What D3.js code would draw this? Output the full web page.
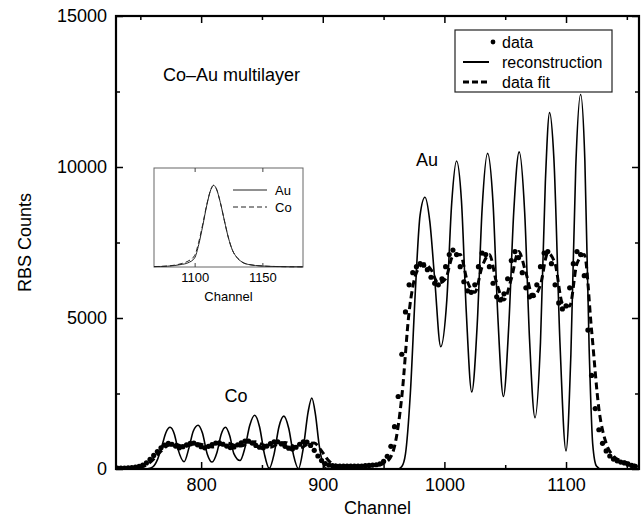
<!DOCTYPE html>
<html><head><meta charset="utf-8">
<script src="https://cdn.jsdelivr.net/npm/d3@7"></script>
<style>
body{margin:0;background:#fff}
svg{display:block}
text{font-family:"Liberation Sans",Arial,Helvetica,sans-serif;fill:#000}
</style>
</head><body>
<svg id="c" width="644" height="520"></svg>
<script>
// ---------- data ----------
const xTicks = [800, 900, 1000, 1100];
const xMinorTicks = [750, 850, 950, 1050, 1150];
const yTicks = [0, 5000, 10000, 15000];
const yMinorTicks = [2500, 7500, 12500];

// measured RBS spectrum (every 3rd channel, 731..1160)
const dataChannels = d3.range(731, 1161, 3);
const dataCounts = [
  30,30,30,35,45,60,90,130,200,320,450,580,700,790,850,820,760,700,
  740,800,850,860,800,740,700,750,810,860,870,820,760,710,730,800,870,920,
  920,860,780,720,700,760,840,900,900,830,750,690,660,720,820,900,890,780,
  620,430,280,180,130,110,100,100,100,100,100,100,100,100,110,120,130,140,
  170,250,420,750,1400,2400,3800,5200,6100,6500,6700,6800,6750,6600,6350,6150,
  6100,6300,6700,7100,7250,7100,6700,6200,5900,5850,6100,6700,7150,7100,6700,6150,
  5700,5600,5800,6300,6900,7200,7000,6500,6000,5700,5750,6100,6700,7150,7200,6800,
  6100,5500,5300,5400,6000,6800,7200,7100,6400,4600,3100,2000,1300,850,600,430,
  330,270,230,200,160,120,90
];

// data fit (every 6th channel, 731..1157)
const fitChannels = d3.range(731, 1158, 6);
const fitCounts = [
  20,25,35,60,130,330,590,780,820,740,790,840,790,730,800,860,790,760,
  860,900,800,720,830,880,770,690,810,860,600,270,120,90,90,90,95,110,
  140,250,750,2400,5200,6500,6800,6600,6150,6300,7050,7100,6200,5850,6700,7100,
  6150,5600,6300,7200,6500,5700,6100,7150,6800,5500,5400,6800,7100,4600,2000,850,
  430,270,200,120
];

// reconstruction
const reconChannels = [730,750,756,760,764,768,771,774.5,778,781,786,790,793.5,797.5,801,805,809,813,816.5,820,823.5,827,832,836,840,844,848,852,856,860,864,868,872,876,880,884,888,891,894,897,900,903,907,962,965,968,972,976,980,984,988,992,997,1002,1006,1010,1014,1018,1022.5,1027,1031,1035.5,1040,1044,1048.5,1053,1057,1061.5,1066,1070,1074.5,1079,1083,1086.5,1090,1095,1100,1104,1108,1112,1115.5,1119,1122,1125,1129,1160];
const reconCounts = [0,0,10,60,300,800,1200,1380,1150,650,240,700,1250,1450,1200,500,230,550,1150,1380,1100,500,280,700,1450,1780,1400,500,20,500,1400,1750,1350,450,10,700,1900,2350,1800,800,200,20,0,0,80,500,2500,5800,8400,9000,8200,6300,4050,5600,8800,10200,8900,5200,2550,4800,8600,10450,8800,5000,2400,4800,8500,10500,8500,4300,1700,4200,9500,11800,10300,4200,600,3800,10000,12400,10200,4000,800,100,0,0];

// inset: depth-resolution functions
const insetChannels = [1070,1080,1090,1095,1100,1103,1106,1109,1112,1114,1116,1119,1122,1125,1128,1131,1135,1140,1150,1160,1170,1180];
const insetAu = [0.005,0.01,0.03,0.05,0.11,0.27,0.5,0.75,0.94,0.99,0.95,0.78,0.56,0.35,0.2,0.12,0.06,0.03,0.012,0.006,0.003,0.002];
const insetCo = [0.005,0.012,0.04,0.07,0.14,0.3,0.52,0.76,0.94,0.99,0.95,0.78,0.56,0.35,0.2,0.12,0.06,0.03,0.012,0.006,0.003,0.002];
const insetXTicks = [1100, 1150];

const legendItems = ["data", "reconstruction", "data fit"];
const insetLegend = ["Au", "Co"];

// ---------- drawing ----------
const svg = d3.select("#c");
const L = 116, R = 639, T = 16, B = 469;
const x = d3.scaleLinear().domain([730, 1160]).range([L, R]);
const y = d3.scaleLinear().domain([0, 15000]).range([B, T]);

svg.append("clipPath").attr("id", "pc").append("rect")
  .attr("x", L).attr("y", T).attr("width", R - L).attr("height", B - T);

const plot = svg.append("g").attr("clip-path", "url(#pc)");

const line = d3.line().x(d => x(d[0])).y(d => y(d[1])).curve(d3.curveMonotoneX);

// data fit dashed
plot.append("path").datum(fitChannels.map((c, i) => [c, fitCounts[i]]))
  .attr("d", line).attr("fill", "none").attr("stroke", "#000")
  .attr("stroke-width", 3).attr("stroke-dasharray", "7,4");

// data dots
plot.append("g").selectAll("circle").data(dataChannels).join("circle")
  .attr("cx", d => x(d)).attr("cy", (d, i) => y(dataCounts[i])).attr("r", 2.6).attr("fill", "#000");

// reconstruction
plot.append("path").datum(reconChannels.map((c, i) => [c, reconCounts[i]]))
  .attr("d", line).attr("fill", "none").attr("stroke", "#000").attr("stroke-width", 1.6);

// axes
function axisG(axis, tx, ty) {
  const g = svg.append("g").attr("transform", `translate(${tx},${ty})`).call(axis);
  g.select(".domain").remove();
  g.selectAll(".tick line").attr("stroke", "#000").attr("stroke-width", 1.5);
  g.selectAll("text").attr("font-size", 18).attr("font-family", "'Liberation Sans',Arial,sans-serif").attr("fill", "#000");
  return g;
}
axisG(d3.axisBottom(x).tickValues(xTicks).tickSize(-7).tickPadding(9).tickFormat(d3.format("d")), 0, B);
axisG(d3.axisBottom(x).tickValues(xMinorTicks).tickSize(-4).tickFormat(""), 0, B);
axisG(d3.axisTop(x).tickValues(xTicks).tickSize(-7).tickFormat(""), 0, T);
axisG(d3.axisTop(x).tickValues(xMinorTicks).tickSize(-4).tickFormat(""), 0, T);
axisG(d3.axisLeft(y).tickValues(yTicks).tickSize(-7).tickPadding(9).tickFormat(d3.format("d")), L, 0);
axisG(d3.axisLeft(y).tickValues(yMinorTicks).tickSize(-4).tickFormat(""), L, 0);
axisG(d3.axisRight(y).tickValues(yTicks).tickSize(-7).tickFormat(""), R, 0);
axisG(d3.axisRight(y).tickValues(yMinorTicks).tickSize(-4).tickFormat(""), R, 0);

svg.append("rect").attr("x", L).attr("y", T).attr("width", R - L).attr("height", B - T)
  .attr("fill", "none").attr("stroke", "#000").attr("stroke-width", 2.2);

// axis titles
svg.append("text").attr("x", (L + R) / 2).attr("y", 514).attr("text-anchor", "middle")
  .attr("font-size", 18).text("Channel");
svg.append("text").attr("transform", `translate(31,${(T + B) / 2}) rotate(-90)`)
  .attr("text-anchor", "middle").attr("font-size", 18).text("RBS Counts");

// annotations
svg.append("text").attr("x", 163).attr("y", 81).attr("font-size", 18).text("Co\u2013Au multilayer");
svg.append("text").attr("x", 427).attr("y", 166).attr("text-anchor", "middle").attr("font-size", 18).text("Au");
svg.append("text").attr("x", 236).attr("y", 402).attr("text-anchor", "middle").attr("font-size", 18).text("Co");

// legend
const lg = svg.append("g");
lg.append("rect").attr("x", 455).attr("y", 30).attr("width", 157).attr("height", 62)
  .attr("fill", "#fff").attr("stroke", "#222").attr("stroke-width", 1.2);
const ly = [42, 62, 82];
legendItems.forEach((t, i) => {
  lg.append("text").attr("x", 502).attr("y", ly[i] + 6).attr("font-size", 16).text(t);
});
lg.append("circle").attr("cx", 493).attr("cy", ly[0]).attr("r", 2.4).attr("fill", "#000");
lg.append("line").attr("x1", 463).attr("x2", 489).attr("y1", ly[1]).attr("y2", ly[1])
  .attr("stroke", "#000").attr("stroke-width", 2);
lg.append("line").attr("x1", 463).attr("x2", 489).attr("y1", ly[2]).attr("y2", ly[2])
  .attr("stroke", "#000").attr("stroke-width", 2.8).attr("stroke-dasharray", "6,3");

// inset
const iL = 154, iR = 303, iT = 168, iB = 267;
const ix = d3.scaleLinear().domain([1070, 1180]).range([iL, iR]);
const iy = d3.scaleLinear().domain([0, 1.2]).range([iB, iT]);
const ins = svg.append("g");
ins.append("rect").attr("x", iL).attr("y", iT).attr("width", iR - iL).attr("height", iB - iT)
  .attr("fill", "#fff").attr("stroke", "#666").attr("stroke-width", 1);
const iline = d3.line().x(d => ix(d[0])).y(d => iy(d[1])).curve(d3.curveMonotoneX);
ins.append("path").datum(insetChannels.map((c, i) => [c, insetCo[i]]))
  .attr("d", iline).attr("fill", "none").attr("stroke", "#222").attr("stroke-width", 1).attr("stroke-dasharray", "5,3");
ins.append("path").datum(insetChannels.map((c, i) => [c, insetAu[i]]))
  .attr("d", iline).attr("fill", "none").attr("stroke", "#222").attr("stroke-width", 1);
const ib = ins.append("g").attr("transform", `translate(0,${iB})`)
  .call(d3.axisBottom(ix).tickValues(insetXTicks).tickSize(-4).tickPadding(6).tickFormat(d3.format("d")));
ib.select(".domain").remove();
ib.selectAll("line").attr("stroke", "#444");
ib.selectAll("text").attr("font-size", 13).attr("font-family", "'Liberation Sans',Arial,sans-serif").attr("fill", "#000");
const it = ins.append("g").attr("transform", `translate(0,${iT})`)
  .call(d3.axisTop(ix).tickValues(insetXTicks).tickSize(-4).tickFormat(""));
it.select(".domain").remove();
it.selectAll("line").attr("stroke", "#444");
ins.append("text").attr("x", (iL + iR) / 2).attr("y", 301).attr("text-anchor", "middle")
  .attr("font-size", 13).text("Channel");
const ily = [190, 207];
insetLegend.forEach((t, i) => {
  ins.append("line").attr("x1", 233).attr("x2", 267).attr("y1", ily[i]).attr("y2", ily[i])
    .attr("stroke", "#222").attr("stroke-width", 1).attr("stroke-dasharray", i ? "5,3" : null);
  ins.append("text").attr("x", 275).attr("y", ily[i] + 5).attr("font-size", 13).text(t);
});
</script>
</body></html>
